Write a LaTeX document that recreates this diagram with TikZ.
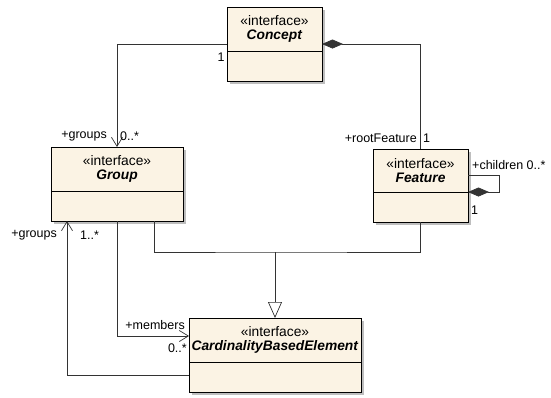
\documentclass[tikz,border=0pt]{standalone}
\usepackage{fontspec}
\setmainfont{Liberation Sans}
\usepackage{tikz}
\usetikzlibrary{arrows.meta,positioning,shadows}

\definecolor{classfill}{RGB}{251,243,228}
\definecolor{shadowgray}{RGB}{190,190,190}

\newcommand{\ifaceclass}[1]{«interface»\\\textbf{\textit{#1}}}

\begin{document}
\begin{tikzpicture}[
    x=1pt, y=-1pt,
    font=\fontsize{12.5}{14}\selectfont,
    header/.style={rectangle, draw=black, fill=classfill, line width=0.8pt, outer sep=0pt, inner sep=0pt, align=center, minimum height=44pt, font=\fontsize{13.8}{14.5}\selectfont, drop shadow={shadow xshift=3pt, shadow yshift=-3pt, fill=shadowgray, opacity=1}},
    compart/.style={header, minimum height=30pt},
    assoc/.style={draw=black!80, line width=0.7pt},
    navig/.style={assoc, -{Straight Barb[length=9pt, width=11pt]}},
    compose/.style={assoc, {Diamond[length=21pt, width=9pt]}-},
    realize/.style={assoc, -{Triangle[open, length=16pt, width=14pt, fill=white]}},
    role/.style={inner sep=1pt}
]
\useasboundingbox (0,0) rectangle (551,397);

% Classes
\node[header, minimum width=95pt, anchor=north] (concept) at (274.5,7) {\ifaceclass{Concept}};
\node[compart, minimum width=95pt, below=0pt of concept] (conceptB) {};

\node[header, minimum width=132pt, anchor=north] (group) at (117,147) {\ifaceclass{Group}};
\node[compart, minimum width=132pt, below=0pt of group] (groupB) {};

\node[header, minimum width=95pt, minimum height=43pt, anchor=north] (feature) at (420.5,149) {\ifaceclass{Feature}};
\node[compart, minimum width=95pt, below=0pt of feature] (featureB) {};

\node[header, minimum width=172pt, anchor=north] (cbe) at (275,318) {\ifaceclass{CardinalityBasedElement}};
\node[compart, minimum width=172pt, below=0pt of cbe] (cbeB) {};

% Associations
\draw[navig] ([yshift=-15pt]concept.west) -| (group.north);
\draw[compose] ([yshift=-15pt]concept.east) -| (feature.north);
\draw[compose] (feature.south east) -- ++(31,0) |- ([yshift=-4.5pt]feature.east);
\draw[navig] (groupB.south) |- ([yshift=4pt]cbe.west);
\draw[navig] ([yshift=2pt]cbeB.west) -| ([xshift=-50pt]groupB.south);

% Generalization
\coordinate (gen) at (cbe.north |- 0,252);
\draw[assoc] ([xshift=37pt]groupB.south) |- (gen) -| (featureB.south);
\draw[realize] (gen) -- (cbe.north);

% Role names and multiplicities
\node[role] (conceptOne) at ([shift={(-6,28)}]concept.west) {1};
\node[role, anchor=east] (groupsTop) at ([shift={(-9,-11)}]group.north) {+groups};
\node[role, anchor=west] (groupsTopMult) at ([shift={(2,-11)}]group.north) {0..*};
\node[role, anchor=east] (rootRole) at ([shift={(-2.5,-11)}]feature.north) {+rootFeature};
\node[role, anchor=west] (rootMult) at ([shift={(1.5,-11)}]feature.north) {1};
\node[role, anchor=west] (childRole) at ([shift={(3,-5.5)}]feature.east) {+children 0..*};
\node[role, anchor=west] (childOne) at ([shift={(2,18)}]feature.south east) {1};
\node[role, anchor=east] (groupsBot) at ([shift={(-59,14)}]groupB.south) {+groups};
\node[role, anchor=west] (groupsBotMult) at ([shift={(-38,14)}]groupB.south) {1..*};
\node[role, anchor=east] (membersRole) at ([shift={(-3,-15)}]cbe.west) {+members};
\node[role, anchor=east] (membersMult) at ([shift={(-1,8)}]cbe.west) {0..*};

\end{tikzpicture}
\end{document}
